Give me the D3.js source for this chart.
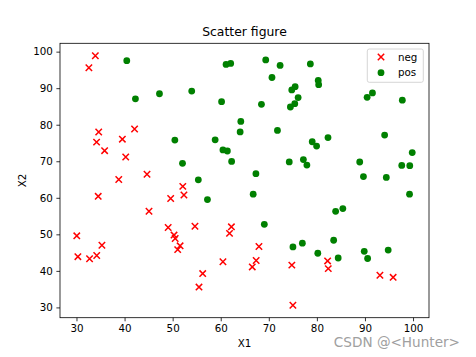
<!DOCTYPE html>
<html><head><meta charset="utf-8">
<script src="https://cdn.jsdelivr.net/npm/d3@7"></script>
<style>
html,body{margin:0;padding:0;background:#fff;}
text{font-family:"DejaVu Sans",sans-serif;}
</style></head>
<body>
<svg id="chart" width="476" height="357"></svg>
<script>
// Exam scores (X1, X2) and admitted label (1 = pos, 0 = neg)
const x1 = [34.62,30.29,35.85,60.18,79.03,45.08,61.11,75.02,76.10,84.43,95.86,75.01,82.31,69.36,39.54,53.97,69.07,67.95,70.66,76.98,67.37,89.68,50.53,34.21,77.92,62.27,80.19,93.11,61.83,38.79,61.38,85.40,52.11,52.05,40.24,54.64,33.92,64.18,74.79,34.18,83.90,51.55,94.44,82.37,51.05,62.22,77.19,97.77,62.07,91.56,79.94,99.27,90.55,34.52,50.29,49.59,97.65,32.58,74.25,71.80,75.40,35.29,56.25,30.06,44.67,66.56,40.46,49.07,80.28,66.75,32.72,64.04,72.35,60.46,58.84,99.83,47.26,50.46,60.46,82.23,88.91,94.83,67.32,57.24,80.37,68.47,42.08,75.48,78.64,52.35,94.09,90.45,55.48,74.49,89.85,83.49,42.26,99.32,55.34,74.78];
const x2 = [78.02,43.89,72.90,86.31,75.34,56.32,96.51,46.55,87.42,43.53,38.23,30.60,76.48,97.72,76.04,89.21,52.74,46.68,92.93,47.58,42.84,65.80,48.86,44.21,68.97,69.95,44.82,38.80,50.26,65.00,72.81,57.05,63.13,69.43,71.17,52.21,98.87,80.91,41.57,75.24,56.31,46.86,65.57,40.62,45.82,52.06,70.46,86.73,96.77,88.70,74.16,61.00,43.39,60.40,49.80,59.81,68.86,95.60,69.82,78.45,85.76,47.02,39.26,49.59,66.45,41.09,97.54,51.88,92.12,60.99,43.31,78.03,96.23,73.09,75.86,72.37,88.48,75.81,42.51,42.72,69.80,45.69,66.59,59.51,90.96,85.59,78.84,90.42,96.65,60.77,77.16,87.51,35.57,84.85,45.36,48.38,87.10,68.78,64.93,89.53];
const label = [0,0,0,1,1,0,1,1,1,1,0,0,1,1,0,1,1,0,1,1,0,1,0,0,1,1,1,0,0,0,1,1,0,1,0,0,0,1,0,0,1,0,1,0,0,0,1,1,1,1,1,1,1,0,0,0,1,0,1,1,1,0,0,0,0,0,1,0,1,1,0,1,1,1,1,1,1,1,0,0,1,1,1,1,1,1,0,1,1,0,1,1,0,1,1,1,1,1,1,1];
const xTicks = [30,40,50,60,70,80,90,100];
const yTicks = [30,40,50,60,70,80,90,100];
const seriesNames = ["neg","pos"];
const seriesColors = ["#ff0000","#008000"];

const svg = d3.select("#chart");
const L = 60, R = 429, T = 43.3, B = 317.7;

function pad(arr){const mn=d3.min(arr),mx=d3.max(arr),p=(mx-mn)*0.05;return [mn-p,mx+p];}
const x = d3.scaleLinear().domain(pad(x1)).range([L,R]);
const y = d3.scaleLinear().domain(pad(x2)).range([B,T]);

const pts = x1.map((v,i)=>({a:v,b:x2[i],c:label[i]}));

const g = svg.append("g");
const neg = pts.filter(d=>d.c===0), pos = pts.filter(d=>d.c===1);
const s = 3.2, r = 3.4, sw = 1.5;
g.selectAll("path.neg").data(neg).enter().append("path")
  .attr("class","neg")
  .attr("d",d=>{const cx=x(d.a),cy=y(d.b);return `M${cx-s},${cy-s}L${cx+s},${cy+s}M${cx-s},${cy+s}L${cx+s},${cy-s}`;})
  .attr("stroke",seriesColors[0]).attr("stroke-width",sw).attr("fill","none");
g.selectAll("circle.pos").data(pos).enter().append("circle")
  .attr("class","pos")
  .attr("cx",d=>x(d.a)).attr("cy",d=>y(d.b)).attr("r",r)
  .attr("fill",seriesColors[1]);

// axes
const xa = svg.append("g").attr("transform",`translate(0,${B})`)
  .call(d3.axisBottom(x).tickValues(xTicks).tickSize(3.6).tickPadding(3.6).tickFormat(d3.format("d")));
const ya = svg.append("g").attr("transform",`translate(${L},0)`)
  .call(d3.axisLeft(y).tickValues(yTicks).tickSize(3.6).tickPadding(3.6).tickFormat(d3.format("d")));
[xa,ya].forEach(a=>{
  a.select(".domain").remove();
  a.selectAll("text").attr("font-size","10.3px").attr("fill","#000").attr("font-family","DejaVu Sans");
  a.selectAll("line").attr("stroke","#000").attr("stroke-width",0.8);
});
// frame
svg.append("rect").attr("x",L).attr("y",T).attr("width",R-L).attr("height",B-T)
  .attr("fill","none").attr("stroke","#000").attr("stroke-width",0.8);

// title and labels
svg.append("text").attr("x",(L+R)/2).attr("y",36).attr("text-anchor","middle")
  .attr("font-size","12.4px").text("Scatter figure");
svg.append("text").attr("x",(L+R)/2).attr("y",347).attr("text-anchor","middle")
  .attr("font-size","10.3px").text("X1");
svg.append("text").attr("transform",`translate(26,${(T+B)/2}) rotate(-90)`).attr("text-anchor","middle")
  .attr("font-size","10.3px").text("X2");

// legend
const lg = svg.append("g");
lg.append("rect").attr("x",367.3).attr("y",49).attr("width",56).attr("height",33.3).attr("rx",2)
  .attr("fill","#fff").attr("fill-opacity",0.8).attr("stroke","#cccccc").attr("stroke-width",0.8);
const lx = 381, ly = [57, 72.7];
seriesNames.forEach((n,i)=>{
  if(i===0){
    lg.append("path").attr("d",`M${lx-s},${ly[i]-s}L${lx+s},${ly[i]+s}M${lx-s},${ly[i]+s}L${lx+s},${ly[i]-s}`)
      .attr("stroke",seriesColors[0]).attr("stroke-width",sw).attr("fill","none");
  } else {
    lg.append("circle").attr("cx",lx).attr("cy",ly[i]).attr("r",r).attr("fill",seriesColors[1]);
  }
  lg.append("text").attr("x",398).attr("y",ly[i]+3.6).attr("font-size","10.3px").text(n);
});

// watermark
svg.append("text").attr("x",460).attr("y",347).attr("text-anchor","end")
  .attr("font-size","13.6px").attr("fill","#a0a0a0").attr("font-family","Liberation Sans, Arial, sans-serif").text("CSDN @<Hunter>");
</script>
</body></html>
